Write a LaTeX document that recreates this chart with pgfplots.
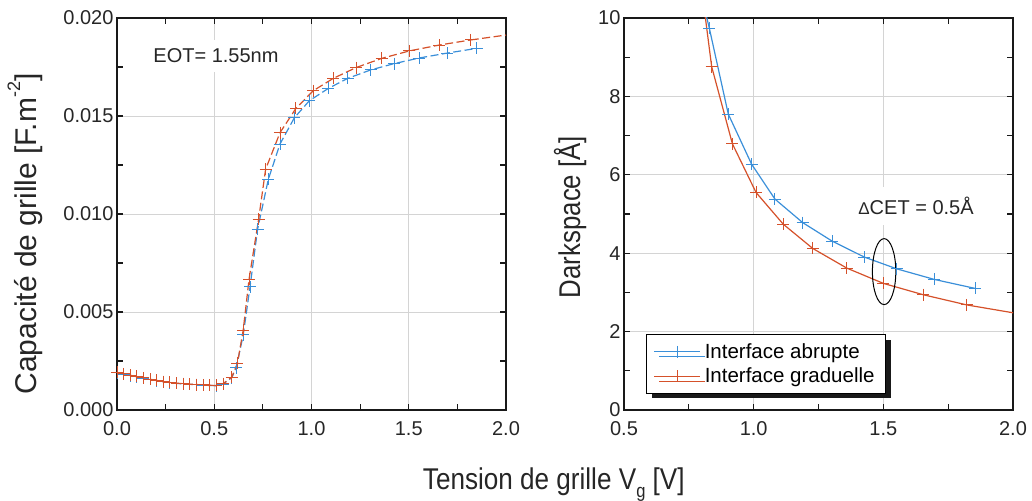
\documentclass[border=0pt]{standalone}
\usepackage{fontspec}
\setmainfont{Liberation Sans}
\usepackage{pgfplots}
\pgfplotsset{compat=1.18}
\usetikzlibrary{shadows}
\definecolor{cblue}{RGB}{58,143,217}
\definecolor{cred}{RGB}{213,81,42}
\definecolor{cgrid}{RGB}{212,212,212}
\pgfplotsset{
  common/.style={
    scale only axis, width=389pt, height=392pt,
    anchor=south west,
    axis line style={black!90, line width=1.3pt},
    grid=major,
    major grid style={cgrid, line width=0.9pt},
    tick style={black!90, line width=1.2pt},
    major tick length=6pt, minor tick length=6pt,
    minor tick num=1,
    tick align=inside,
    /pgf/number format/assume math mode=true,
    tick label style={font=\fontsize{20}{24}\selectfont, text=black!85},
    xticklabel style={yshift=-8pt},
  },
  bl/.style={color=cblue, line width=1.2pt, mark=+, mark size=6pt, mark options={solid, line width=0.9pt}},
  rd/.style={color=cred, line width=1.2pt, mark=+, mark size=6pt, mark options={solid, line width=0.9pt}},
}
\begin{document}
\begin{tikzpicture}
\path[use as bounding box] (0,0) rectangle (1032pt,500pt);
% ---------------- left axis
\begin{axis}[common, at={(117pt,90pt)},
  xmin=0, xmax=2, ymin=0, ymax=0.02,
  xtick={0,0.5,1,1.5,2}, ytick={0,0.005,0.01,0.015,0.02},
  scaled y ticks=false,
  yticklabel style={/pgf/number format/.cd, fixed, fixed zerofill, precision=3},
  xticklabel style={/pgf/number format/.cd, fixed, fixed zerofill, precision=1},
]
\addplot[bl, dash pattern=on 8pt off 3.5pt] coordinates {
(0.000,0.00190) (0.034,0.00182) (0.068,0.00176) (0.102,0.00170) (0.136,0.00163)
(0.170,0.00156) (0.204,0.00150) (0.238,0.00144) (0.272,0.00140) (0.306,0.00136)
(0.340,0.00133) (0.374,0.00131) (0.408,0.00129) (0.442,0.00127) (0.476,0.00125)
(0.510,0.00124) (0.545,0.00132) (0.590,0.00165) (0.613,0.00215) (0.649,0.00383)
(0.684,0.00629) (0.723,0.00923) (0.778,0.01177) (0.838,0.01357) (0.912,0.01491)
(0.989,0.01578) (1.087,0.01641) (1.186,0.01692) (1.304,0.01735) (1.424,0.01767)
(1.554,0.01796) (1.698,0.01821) (1.849,0.01845)};
\addplot[rd, dash pattern=on 8pt off 3.5pt] coordinates {
(0.000,0.00192) (0.034,0.00184) (0.068,0.00177) (0.102,0.00171) (0.136,0.00164)
(0.170,0.00157) (0.204,0.00151) (0.238,0.00145) (0.272,0.00141) (0.306,0.00137)
(0.340,0.00134) (0.374,0.00132) (0.408,0.00130) (0.442,0.00128) (0.476,0.00126)
(0.510,0.00125) (0.545,0.00134) (0.590,0.00168) (0.619,0.00238) (0.649,0.00408)
(0.679,0.00668) (0.728,0.00973) (0.764,0.01228) (0.838,0.01415) (0.920,0.01539)
(1.009,0.01629) (1.112,0.01692) (1.229,0.01747) (1.361,0.01794) (1.503,0.01832)
(1.657,0.01862) (1.819,0.01888)};
\addplot[rd, mark=none, dash pattern=on 8pt off 3.5pt] coordinates {(1.819,0.01888) (2.0,0.01913)};
\node[fill=white, inner xsep=6pt, inner ysep=9pt, font=\fontsize{20}{24}\selectfont, text=black!85] at (axis cs:0.509,0.01806) {EOT= 1.55nm};
\end{axis}
% ---------------- right axis
\begin{axis}[common, at={(624pt,90pt)},
  xmin=0.5, xmax=2, ymin=0, ymax=10,
  xtick={0.5,1,1.5,2}, ytick={0,2,4,6,8,10},
  xticklabel style={/pgf/number format/.cd, fixed, fixed zerofill, precision=1},
  legend cell align=left,
  legend style={at={(0.0566,0.041)}, anchor=south west, draw=black, line width=1.1pt,
    fill=white, font=\fontsize{20.5}{24}\selectfont, inner xsep=7pt, inner ysep=7pt,
    row sep=4pt,
    nodes={inner xsep=4pt},
    drop shadow={shadow xshift=5pt, shadow yshift=-5pt, fill=black!90, opacity=1}},
  legend image code/.code={\draw[mark repeat=2, mark phase=2, #1] plot coordinates {(0pt,0pt) (23pt,0pt) (46pt,0pt)};},
]
\addplot[bl] coordinates {
(0.829,9.74) (0.902,7.55) (0.992,6.27) (1.082,5.38) (1.189,4.78)
(1.302,4.31) (1.427,3.90) (1.552,3.60) (1.697,3.33) (1.855,3.10)};
\addlegendentry{Interface abrupte}
\addplot[rd] coordinates {
(0.838,8.76) (0.918,6.79) (1.009,5.55) (1.114,4.74) (1.228,4.12)
(1.359,3.62) (1.500,3.23) (1.654,2.94) (1.822,2.68)};
\addlegendentry{Interface graduelle}
\addplot[bl, mark=none, forget plot] coordinates {(0.812,10.2) (0.829,9.74)};
\addplot[rd, mark=none, forget plot] coordinates {(0.810,10.2) (0.838,8.76)};
\addplot[rd, mark=none, forget plot] coordinates {(1.822,2.68) (2.0,2.48)};
\draw[black, line width=1pt] (axis cs:1.503,3.53) ellipse [x radius=11.7pt, y radius=33pt];
\node[fill=white, inner xsep=4pt, inner ysep=10pt, font=\fontsize{20}{24}\selectfont, text=black!85] at (axis cs:1.626,5.20) {{\fontsize{17}{17}\selectfont Δ}CET = 0.5Å};
\end{axis}
% ---------------- labels
\node[anchor=base, font=\fontsize{30}{36}\selectfont, text=black!85] at (553.8pt,11pt)
  {\scalebox{0.87}[1]{Tension de grille V\raisebox{-0.28em}{\fontsize{19}{19}\selectfont g} [V]}};
\node[anchor=base, rotate=90, font=\fontsize{30}{36}\selectfont, text=black!85] at (36.7pt,266pt)
  {Capacité de grille [F.m\raisebox{0.55em}{\fontsize{18}{18}\selectfont -2}]};
\node[anchor=base, rotate=90, font=\fontsize{30}{36}\selectfont, text=black!85] at (580pt,283pt)
  {\scalebox{0.86}[1]{Darkspace [Å]}};
\end{tikzpicture}
\end{document}
